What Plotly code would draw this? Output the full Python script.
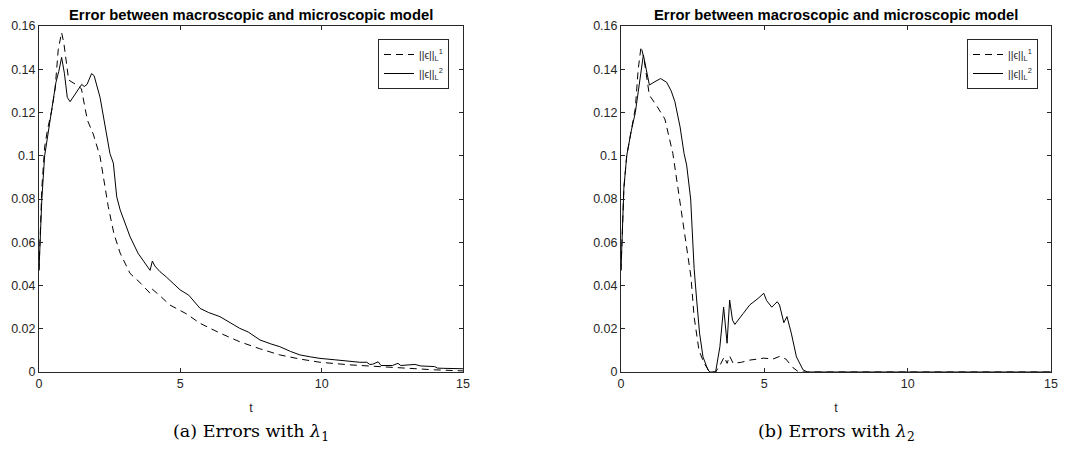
import plotly.graph_objects as go

# Panel (a): errors with lambda_1
t_a_l1 = [0, 0.05, 0.1, 0.2, 0.3, 0.45, 0.57, 0.68, 0.8, 0.88, 1.05, 1.3, 1.5, 1.71, 1.92, 2.16, 2.39, 2.45, 2.65, 2.87, 3.22, 3.6, 3.93, 4.0, 4.3, 4.63, 5.2, 5.7, 6.4, 7.1, 7.8, 8.52, 9.23, 9.94, 11.0, 12.0, 13.0, 14.0, 15.0]
v_a_l1 = [0.047, 0.07, 0.085, 0.104, 0.112, 0.121, 0.131, 0.149, 0.157, 0.152, 0.135, 0.133, 0.131, 0.1165, 0.110, 0.0996, 0.0827, 0.0765, 0.064, 0.055, 0.0456, 0.041, 0.0364, 0.0384, 0.035, 0.031, 0.027, 0.0225, 0.018, 0.014, 0.0108, 0.0079, 0.006, 0.0045, 0.0033, 0.0025, 0.0017, 0.001, 0.0005]

t_a_l2 = [0, 0.05, 0.1, 0.2, 0.4, 0.6, 0.7, 0.8, 0.9, 1.0, 1.1, 1.3, 1.51, 1.6, 1.7, 1.86, 1.95, 2.16, 2.35, 2.51, 2.63, 2.75, 2.87, 3.0, 3.22, 3.5, 3.93, 4.01, 4.1, 4.28, 4.5, 4.99, 5.3, 5.7, 6.0, 6.4, 6.8, 7.1, 7.4, 7.82, 8.2, 8.52, 8.9, 9.23, 9.6, 9.94, 10.5, 11.0, 11.35, 11.6, 11.7, 11.8, 12.0, 12.1, 12.5, 12.7, 12.8, 13.3, 13.5, 14.0, 14.1, 14.3, 15.0]
v_a_l2 = [0.047, 0.062, 0.08, 0.1, 0.118, 0.134, 0.139, 0.1455, 0.138, 0.127, 0.125, 0.129, 0.133, 0.132, 0.133, 0.138, 0.137, 0.127, 0.112, 0.101, 0.0966, 0.081, 0.075, 0.07, 0.0626, 0.055, 0.047, 0.0513, 0.049, 0.0464, 0.044, 0.038, 0.0355, 0.0294, 0.0275, 0.0256, 0.0225, 0.0202, 0.0185, 0.0148, 0.013, 0.0117, 0.0095, 0.0079, 0.007, 0.0063, 0.0056, 0.0048, 0.0045, 0.0045, 0.0035, 0.0036, 0.0047, 0.003, 0.003, 0.004, 0.003, 0.0035, 0.0028, 0.0025, 0.0018, 0.0017, 0.0015]

# Panel (b): errors with lambda_2
t_b_l1 = [0, 0.1, 0.2, 0.35, 0.5, 0.6, 0.7, 0.8, 0.99, 1.25, 1.53, 1.81, 1.98, 2.02, 2.2, 2.44, 2.55, 2.72, 2.9, 3.1, 3.3, 3.45, 3.6, 3.7, 3.79, 3.91, 4.2, 4.49, 4.98, 5.3, 5.53, 5.75, 6.0, 6.2, 15.0]
v_b_l1 = [0.047, 0.085, 0.1, 0.112, 0.122, 0.14, 0.1505, 0.145, 0.128, 0.123, 0.117, 0.101, 0.0857, 0.08, 0.064, 0.044, 0.0256, 0.010, 0.004, 0.0, 0.0, 0.003, 0.007, 0.004, 0.0074, 0.004, 0.0045, 0.0055, 0.0064, 0.006, 0.0072, 0.006, 0.002, 0.0, 0.0]

t_b_l2 = [0, 0.1, 0.2, 0.35, 0.5, 0.65, 0.78, 0.88, 0.99, 1.15, 1.38, 1.59, 1.75, 1.88, 2.06, 2.2, 2.29, 2.43, 2.55, 2.64, 2.74, 2.86, 3.03, 3.1, 3.3, 3.45, 3.58, 3.7, 3.79, 3.89, 3.97, 4.26, 4.49, 4.78, 4.98, 5.08, 5.26, 5.45, 5.53, 5.68, 5.79, 5.94, 6.12, 6.35, 6.5, 15.0]
v_b_l2 = [0.047, 0.085, 0.1, 0.111, 0.12, 0.135, 0.1466, 0.14, 0.1327, 0.134, 0.1357, 0.134, 0.13, 0.125, 0.1134, 0.101, 0.0957, 0.08, 0.048, 0.0333, 0.018, 0.007, 0.001, 0.0, 0.0, 0.0117, 0.030, 0.0133, 0.0333, 0.024, 0.022, 0.027, 0.031, 0.034, 0.0364, 0.033, 0.030, 0.0325, 0.031, 0.0228, 0.0256, 0.018, 0.007, 0.001, 0.0, 0.0]

legend_l1 = "||ϵ||<sub>L</sub><sup>1</sup>"
legend_l2 = "||ϵ||<sub>L</sub><sup>2</sup>"
title_text = "<b>Error between macroscopic and microscopic model</b>"
captions = ["(a) Errors with <i>λ</i><sub>1</sub>", "(b) Errors with <i>λ</i><sub>2</sub>"]
x_ticks = [0, 5, 10, 15]
y_ticks = [0, 0.02, 0.04, 0.06, 0.08, 0.1, 0.12, 0.14, 0.16]

# page body has an 8px margin; size the figure to fit inside the window
OFF = 8
W, H = 1072 - 2 * OFF, 454 - 2 * OFF
ink = "#262626"


def px(x):
    return (x - OFF) / W


def py(y):
    return 1 - (y - OFF) / H


fig = go.Figure()
fig.add_trace(go.Scatter(x=t_a_l1, y=v_a_l1, mode="lines", name=legend_l1,
                         line=dict(color="black", width=1, dash="7px,5px"),
                         xaxis="x", yaxis="y", legend="legend"))
fig.add_trace(go.Scatter(x=t_a_l2, y=v_a_l2, mode="lines", name=legend_l2,
                         line=dict(color="black", width=1),
                         xaxis="x", yaxis="y", legend="legend"))
fig.add_trace(go.Scatter(x=t_b_l1, y=v_b_l1, mode="lines", name=legend_l1,
                         line=dict(color="black", width=1, dash="7px,5px"),
                         xaxis="x2", yaxis="y2", legend="legend2"))
fig.add_trace(go.Scatter(x=t_b_l2, y=v_b_l2, mode="lines", name=legend_l2,
                         line=dict(color="black", width=1),
                         xaxis="x2", yaxis="y2", legend="legend2"))

ydom = [py(372), py(26)]
axis_common = dict(showgrid=False, zeroline=False, showline=True, linecolor=ink,
                   linewidth=1, mirror="ticks", ticks="inside", ticklen=4, automargin=False,
                   tickcolor=ink, tickfont=dict(family="Liberation Sans", size=12.5, color=ink))
xtitle = dict(text="t", font=dict(family="Liberation Sans", size=12.5, color=ink), standoff=13)

fig.update_layout(
    width=W, height=H,
    margin=dict(l=0, r=0, t=0, b=0),
    paper_bgcolor="white", plot_bgcolor="white",
    xaxis=dict(domain=[px(39), px(463)], range=[0, 15], tickvals=x_ticks, anchor="y",
               title=xtitle, **axis_common),
    yaxis=dict(domain=ydom, range=[0, 0.16], tickvals=y_ticks, anchor="x", **axis_common),
    xaxis2=dict(domain=[px(621), px(1051)], range=[0, 15], tickvals=x_ticks, anchor="y2",
                title=xtitle, **axis_common),
    yaxis2=dict(domain=ydom, range=[0, 0.16], tickvals=y_ticks, anchor="x2", **axis_common),
    legend=dict(x=px(449), y=py(39), xanchor="right", yanchor="top",
                bordercolor=ink, borderwidth=1, bgcolor="white",
                font=dict(family="Liberation Sans", size=10.5, color=ink), itemwidth=30,
                tracegroupgap=0),
    legend2=dict(x=px(1038), y=py(39), xanchor="right", yanchor="top",
                 bordercolor=ink, borderwidth=1, bgcolor="white",
                 font=dict(family="Liberation Sans", size=10.5, color=ink), itemwidth=30,
                 tracegroupgap=0),
    showlegend=True,
)

annotations = []
centers = [px((39 + 463) / 2), px((621 + 1051) / 2)]
for cx in centers:
    annotations.append(dict(text=title_text, x=cx, y=py(15), xref="paper", yref="paper",
                            xanchor="center", yanchor="middle", showarrow=False,
                            font=dict(family="Liberation Sans", size=14.8, color="black")))
for cx, cap in zip(centers, captions):
    annotations.append(dict(text=cap, x=cx, y=0, xref="paper", yref="paper",
                            xanchor="center", yanchor="bottom", showarrow=False,
                            font=dict(family="DejaVu Serif", size=17.5, color="black")))
fig.update_layout(annotations=annotations)

fig.write_html("out.html")
